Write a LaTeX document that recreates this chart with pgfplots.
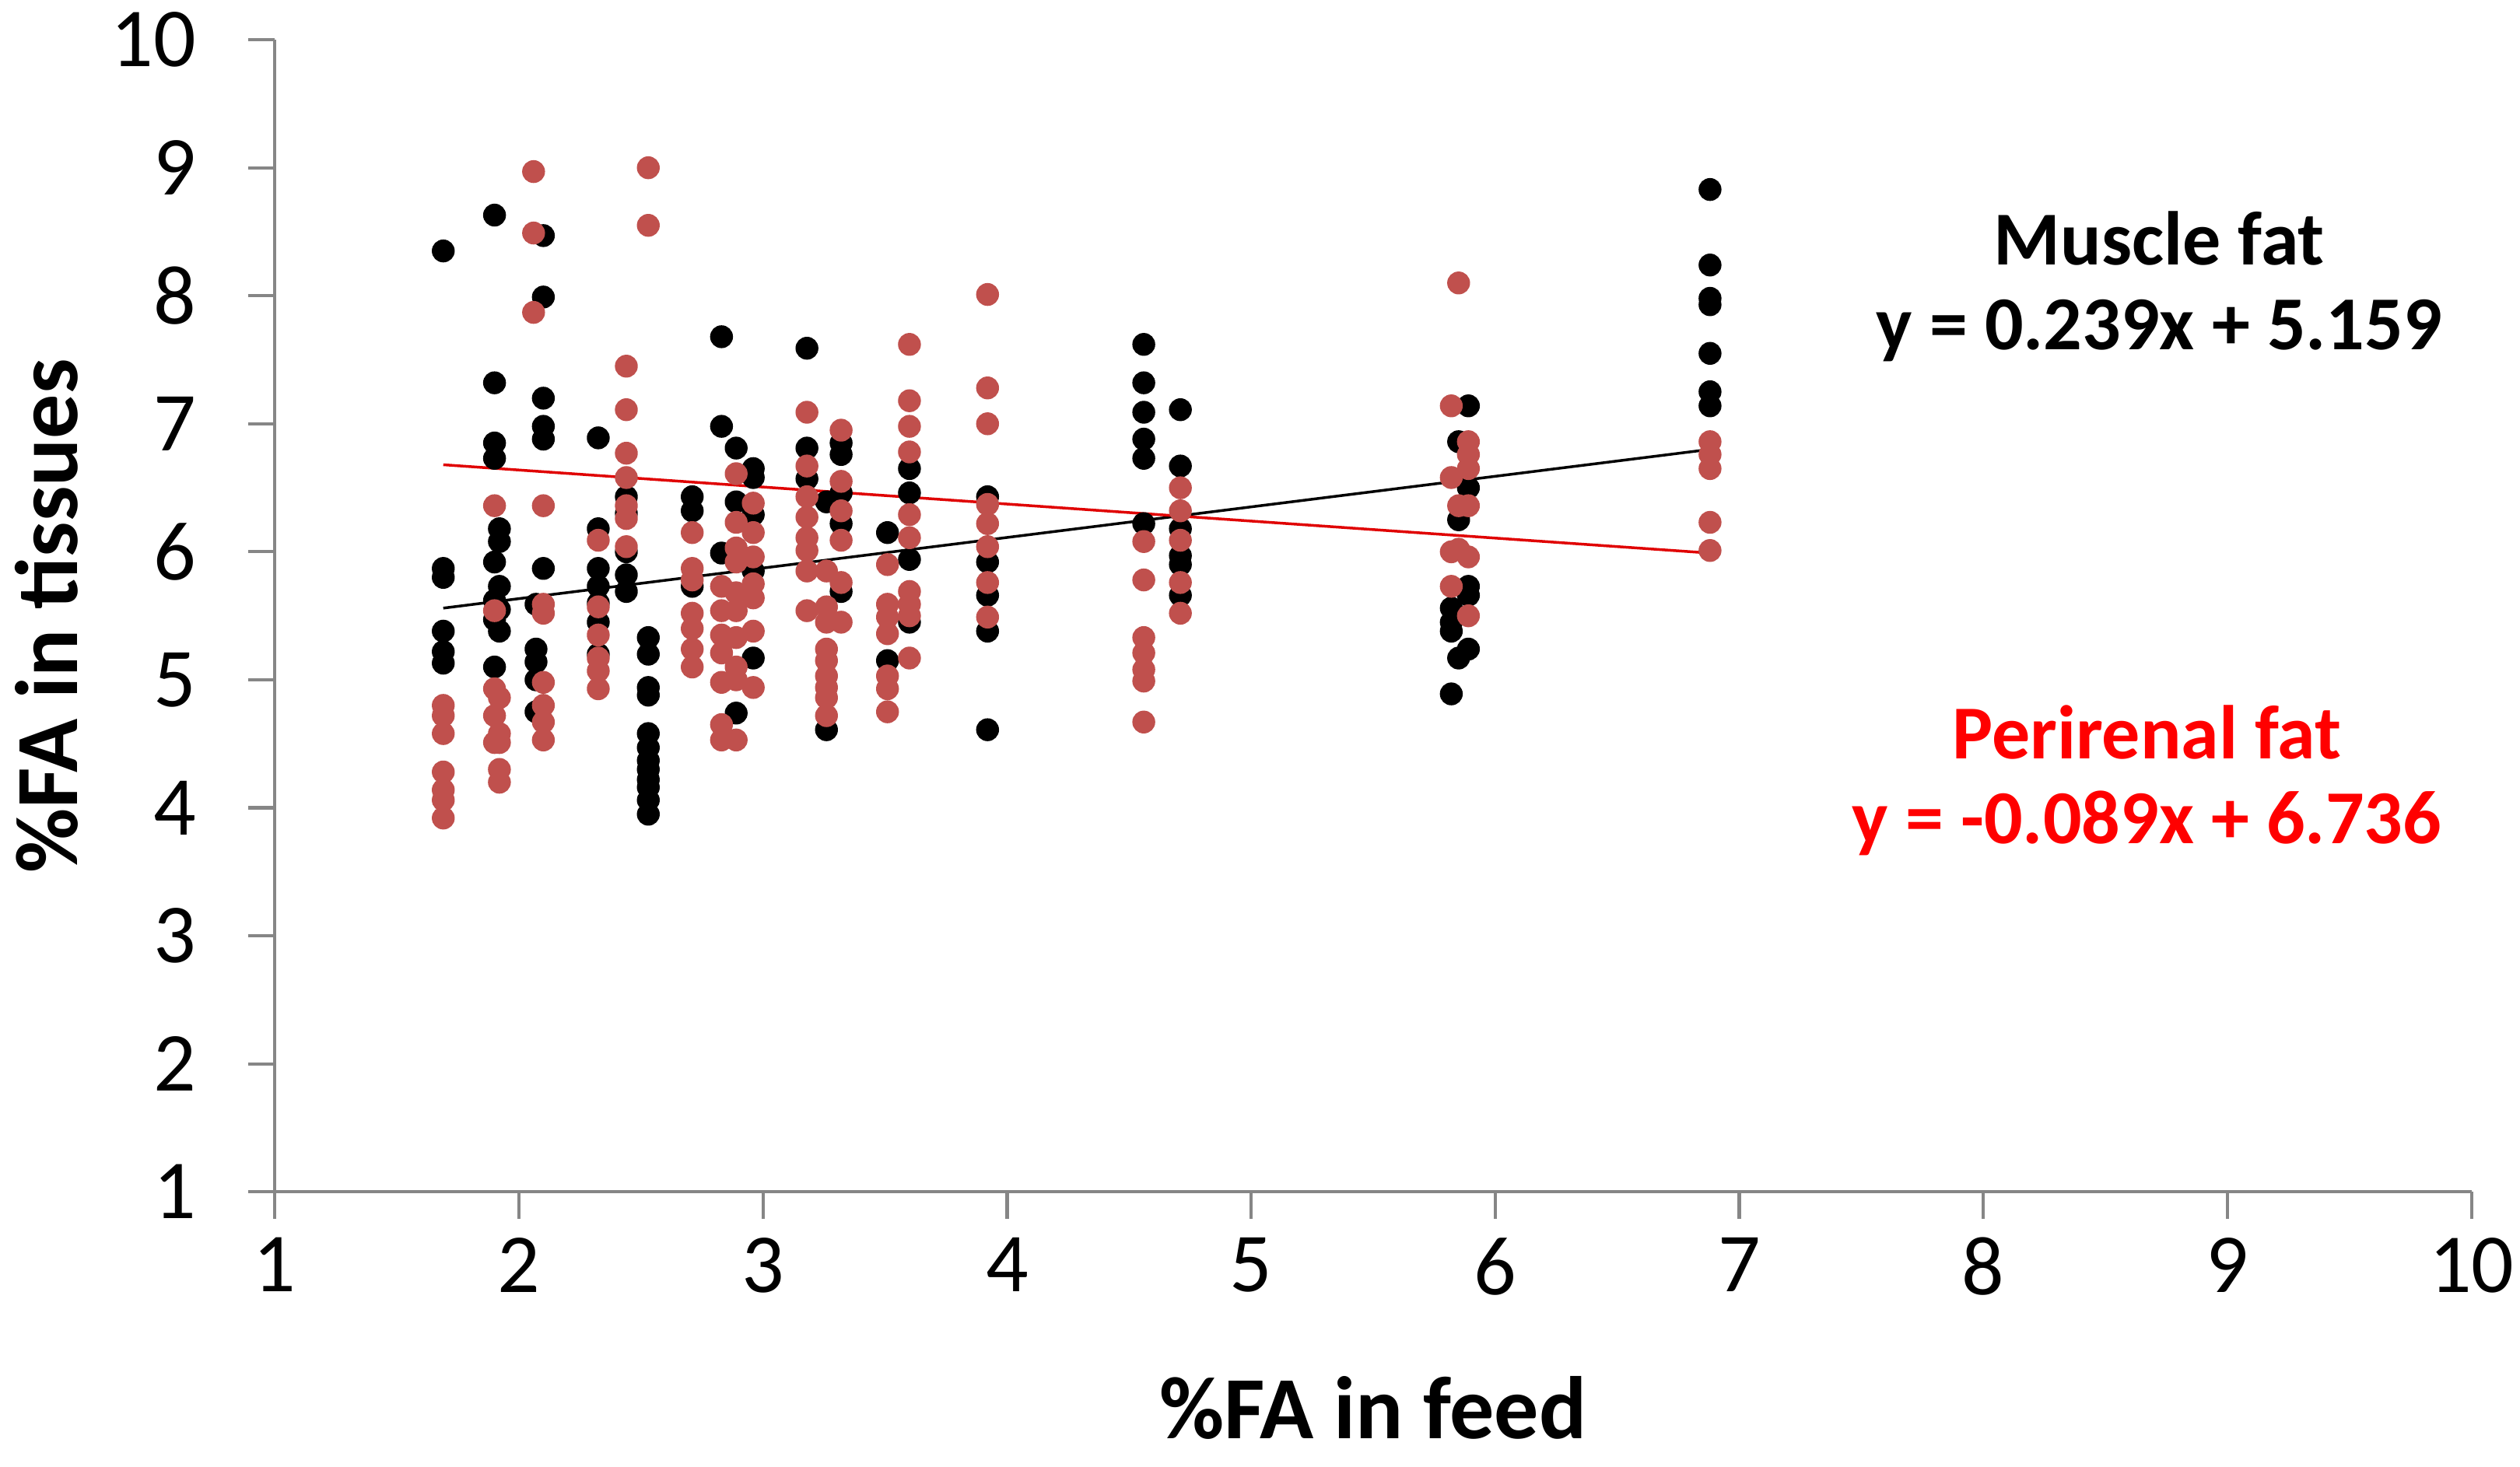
\documentclass[border=0pt]{standalone}
\usepackage{pgfplots}
\pgfplotsset{compat=1.18}
\usepackage{fontspec}
\setmainfont{Carlito}
\definecolor{axgray}{HTML}{868686}
\definecolor{redmark}{HTML}{C0504D}
\definecolor{redline}{HTML}{E00000}

\begin{document}
\begin{tikzpicture}
\begin{axis}[
 scale only axis, width=403.34pt, height=211.6pt,
 xmin=1, xmax=10, ymin=1, ymax=10,
 xtick={1,...,10}, ytick={1,...,10},
 axis x line*=bottom, axis y line*=left,
 axis line style={-, draw=axgray, line width=0.6pt},
 tick align=outside, major tick length=4.9pt,
 tick style={draw=axgray, line width=0.6pt},
 /pgf/number format/assume math mode=true,
 ticklabel style={font=\fontsize{15.4}{18}\selectfont, black},
 yticklabel style={xshift=-6pt},
 xlabel={\%FA in feed}, ylabel={\%FA in tissues},
 label style={font=\bfseries\fontsize{16.3}{19}\selectfont},
 xlabel style={at={(axis description cs:0.5,-0.214)}, anchor=base},
 ylabel style={at={(axis description cs:-0.09,0.5)}, anchor=base},
 clip=false,
]
\coordinate (bl) at (rel axis cs:0,0);
% Muscle fat (black)
\addplot[only marks, mark=*, mark size=1.9pt, mark options={fill=black, draw=black}] coordinates {
(1.69,8.35) (1.69,5.87) (1.69,5.80) (1.69,5.38) (1.69,5.22) (1.69,5.13)
(1.90,8.63) (1.90,7.32) (1.90,6.85) (1.90,6.73) (1.90,5.92) (1.90,5.62) (1.90,5.47) (1.90,5.10)
(1.92,6.18) (1.92,6.08) (1.92,5.73) (1.92,5.55) (1.92,5.38)
(2.07,5.59) (2.07,5.24) (2.07,5.14) (2.07,5.00) (2.07,4.75)
(2.10,8.47) (2.10,7.99) (2.10,7.20) (2.10,6.98) (2.10,6.88) (2.10,5.87)
(2.325,6.89) (2.325,6.18) (2.325,5.87) (2.325,5.73) (2.325,5.60) (2.325,5.45) (2.325,5.20)
(2.44,6.43) (2.44,6.30) (2.44,6.00) (2.44,5.82) (2.44,5.69)
(2.53,5.33) (2.53,5.20) (2.53,4.94) (2.53,4.88) (2.53,4.58) (2.53,4.47) (2.53,4.37) (2.53,4.30) (2.53,4.22) (2.53,4.16) (2.53,4.06) (2.53,3.95)
(2.71,6.43) (2.71,6.32) (2.71,5.73)
(2.83,7.68) (2.83,6.98) (2.83,5.99)
(2.89,6.81) (2.89,6.39) (2.89,4.74)
(2.96,6.65) (2.96,6.58) (2.96,6.29) (2.96,5.85) (2.96,5.17)
(3.18,7.59) (3.18,6.81) (3.18,6.57)
(3.26,6.39) (3.26,4.61)
(3.32,6.85) (3.32,6.76) (3.32,6.46) (3.32,6.22) (3.32,5.69)
(3.51,6.15) (3.51,5.15)
(3.60,6.65) (3.60,6.46) (3.60,5.94) (3.60,5.45)
(3.92,6.43) (3.92,5.92) (3.92,5.66) (3.92,5.38) (3.92,4.61)
(4.56,7.62) (4.56,7.32) (4.56,7.09) (4.56,6.88) (4.56,6.73) (4.56,6.22)
(4.71,7.11) (4.71,6.67) (4.71,6.18) (4.71,5.97) (4.71,5.90) (4.71,5.66)
(5.82,5.56) (5.82,5.45) (5.82,5.38) (5.82,4.89)
(5.85,6.86) (5.85,6.25) (5.85,5.17)
(5.89,7.14) (5.89,6.50) (5.89,5.73) (5.89,5.66) (5.89,5.24)
(6.88,8.83) (6.88,8.24) (6.88,7.98) (6.88,7.93) (6.88,7.55) (6.88,7.25) (6.88,7.14)
};
% Perirenal fat (red)
\addplot[only marks, mark=*, mark size=1.9pt, mark options={fill=redmark, draw=redmark}] coordinates {
(1.69,4.80) (1.69,4.72) (1.69,4.58) (1.69,4.28) (1.69,4.14) (1.69,4.06) (1.69,3.92)
(1.90,6.36) (1.90,5.54) (1.90,4.93) (1.90,4.72) (1.90,4.51)
(1.92,4.86) (1.92,4.58) (1.92,4.51) (1.92,4.30) (1.92,4.20)
(2.06,8.97) (2.06,8.49) (2.06,7.87)
(2.10,6.36) (2.10,5.59) (2.10,5.52) (2.10,4.98) (2.10,4.80) (2.10,4.67) (2.10,4.53)
(2.325,6.09) (2.325,5.57) (2.325,5.35) (2.325,5.17) (2.325,5.07) (2.325,4.93)
(2.44,7.45) (2.44,7.11) (2.44,6.77) (2.44,6.58) (2.44,6.36) (2.44,6.26) (2.44,6.04)
(2.53,9.00) (2.53,8.55)
(2.71,6.15) (2.71,5.87) (2.71,5.78) (2.71,5.52) (2.71,5.40) (2.71,5.24) (2.71,5.10)
(2.83,5.73) (2.83,5.54) (2.83,5.35) (2.83,5.21) (2.83,4.98) (2.83,4.65) (2.83,4.53)
(2.89,6.61) (2.89,6.23) (2.89,6.03) (2.89,5.92) (2.89,5.68) (2.89,5.54) (2.89,5.33) (2.89,5.10) (2.89,5.00) (2.89,4.53)
(2.96,6.38) (2.96,6.15) (2.96,5.96) (2.96,5.75) (2.96,5.64) (2.96,5.38) (2.96,4.94)
(3.18,7.09) (3.18,6.67) (3.18,6.43) (3.18,6.27) (3.18,6.11) (3.18,6.01) (3.18,5.85) (3.18,5.54)
(3.26,5.85) (3.26,5.57) (3.26,5.45) (3.26,5.24) (3.26,5.15) (3.26,5.03) (3.26,4.94) (3.26,4.86) (3.26,4.72)
(3.32,6.95) (3.32,6.55) (3.32,6.32) (3.32,6.09) (3.32,5.76) (3.32,5.45)
(3.51,5.90) (3.51,5.59) (3.51,5.49) (3.51,5.36) (3.51,5.03) (3.51,4.93) (3.51,4.75)
(3.60,7.62) (3.60,7.18) (3.60,6.98) (3.60,6.78) (3.60,6.29) (3.60,6.11) (3.60,5.69) (3.60,5.59) (3.60,5.50) (3.60,5.17)
(3.92,8.01) (3.92,7.28) (3.92,7.00) (3.92,6.37) (3.92,6.22) (3.92,6.04) (3.92,5.76) (3.92,5.49)
(4.56,6.08) (4.56,5.78) (4.56,5.33) (4.56,5.21) (4.56,5.08) (4.56,4.99) (4.56,4.67)
(4.71,6.50) (4.71,6.32) (4.71,6.09) (4.71,5.76) (4.71,5.52)
(5.82,7.14) (5.82,6.58) (5.82,6.00) (5.82,5.73)
(5.85,8.10) (5.85,6.36) (5.85,6.02)
(5.89,6.86) (5.89,6.76) (5.89,6.65) (5.89,6.36) (5.89,5.96) (5.89,5.50)
(6.88,6.86) (6.88,6.76) (6.88,6.65) (6.88,6.23) (6.88,6.01)
};
% trend lines
\addplot[black, line width=0.5pt] coordinates {(1.69,5.56) (6.88,6.80)};
\addplot[redline, line width=0.5pt] coordinates {(1.69,6.68) (6.88,5.99)};
\node[font=\bfseries\fontsize{14}{17}\selectfont, black] at (axis cs:8.72,8.45) {Muscle fat};
\node[font=\bfseries\fontsize{14}{17}\selectfont, black] at (axis cs:8.72,7.73) {y = 0.239x + 5.159};
\node[font=\bfseries\fontsize{14}{17}\selectfont, red] at (axis cs:8.67,4.59) {Perirenal fat};
\node[font=\bfseries\fontsize{14}{17}\selectfont, red] at (axis cs:8.67,3.88) {y = -0.089x + 6.736};
\end{axis}
\pgfresetboundingbox
\path (bl) ++(-50.47pt,-50.39pt) rectangle ++(462.71pt,269.29pt);
\end{tikzpicture}
\end{document}
